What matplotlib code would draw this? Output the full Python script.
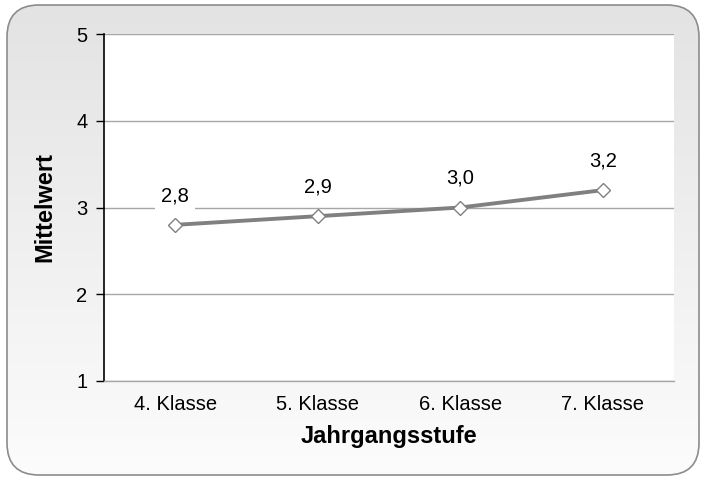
import matplotlib
matplotlib.use("Agg")
import matplotlib.pyplot as plt
import numpy as np
from matplotlib.patches import FancyBboxPatch

categories = ["4. Klasse", "5. Klasse", "6. Klasse", "7. Klasse"]
values = [2.8, 2.9, 3.0, 3.2]
labels = ["2,8", "2,9", "3,0", "3,2"]
yticks = [1, 2, 3, 4, 5]

plt.rcParams['font.family'] = ['Liberation Sans', 'DejaVu Sans']

W, H = 702, 478
fig = plt.figure(figsize=(W/100, H/100), dpi=100)
fig.patch.set_facecolor('white')

# background rounded box with gradient
bg = fig.add_axes([0, 0, 1, 1], zorder=0)
bg.set_xlim(0, W); bg.set_ylim(H, 0); bg.axis('off')
grad = np.linspace(0, 1, 256).reshape(-1, 1)
cmap = matplotlib.colors.LinearSegmentedColormap.from_list('g', ['#e3e3e3', '#fcfcfc'])
im = bg.imshow(grad, extent=[6, 700, 476, 5], cmap=cmap, aspect='auto')
box = FancyBboxPatch((7, 5), 692, 470, boxstyle="round,pad=0,rounding_size=32",
                     facecolor='none', edgecolor='#8c8c8c', linewidth=1.2)
bg.add_patch(box)
im.set_clip_path(box)

# plot area
x0, x1, y0, y1 = 104, 674, 34, 381
ax = fig.add_axes([x0/W, 1 - y1/H, (x1-x0)/W, (y1-y0)/H], zorder=1)
ax.set_facecolor('white')
x = np.arange(len(categories))
ax.set_xlim(-0.5, len(categories) - 0.5)
ax.set_ylim(1, 5)
ax.set_yticks(yticks)
ax.yaxis.grid(True, color='#a6a6a6', linewidth=1)
ax.set_axisbelow(True)
for s in ['top', 'right']:
    ax.spines[s].set_visible(False)
ax.spines['left'].set_color('black')
ax.spines['left'].set_linewidth(1.2)
ax.spines['bottom'].set_color('#a6a6a6')
ax.spines['bottom'].set_linewidth(1)
ax.tick_params(axis='y', direction='out', length=6, width=1, color='black', labelsize=14.5, pad=6)
ax.tick_params(axis='x', length=0, labelsize=14.5, pad=10)
ax.set_xticks(x)
ax.set_xticklabels(categories)

ax.plot(x, values, color='#808080', linewidth=2.8, marker='D', markersize=7,
        markerfacecolor='white', markeredgecolor='#808080', markeredgewidth=1, zorder=3)
for xi, v, l in zip(x, values, labels):
    ax.annotate(l, (xi, v), xytext=(0, 21), textcoords='offset points', ha='center', va='center',
                fontsize=14.5, bbox=dict(boxstyle='square,pad=0.3', facecolor='white', edgecolor='none'),
                zorder=4)

ax.set_ylabel('Mittelwert', fontsize=17, fontweight='bold', labelpad=14)
ax.set_xlabel('Jahrgangsstufe', fontsize=17, fontweight='bold', labelpad=8)

fig.savefig('out.png', dpi=100)
